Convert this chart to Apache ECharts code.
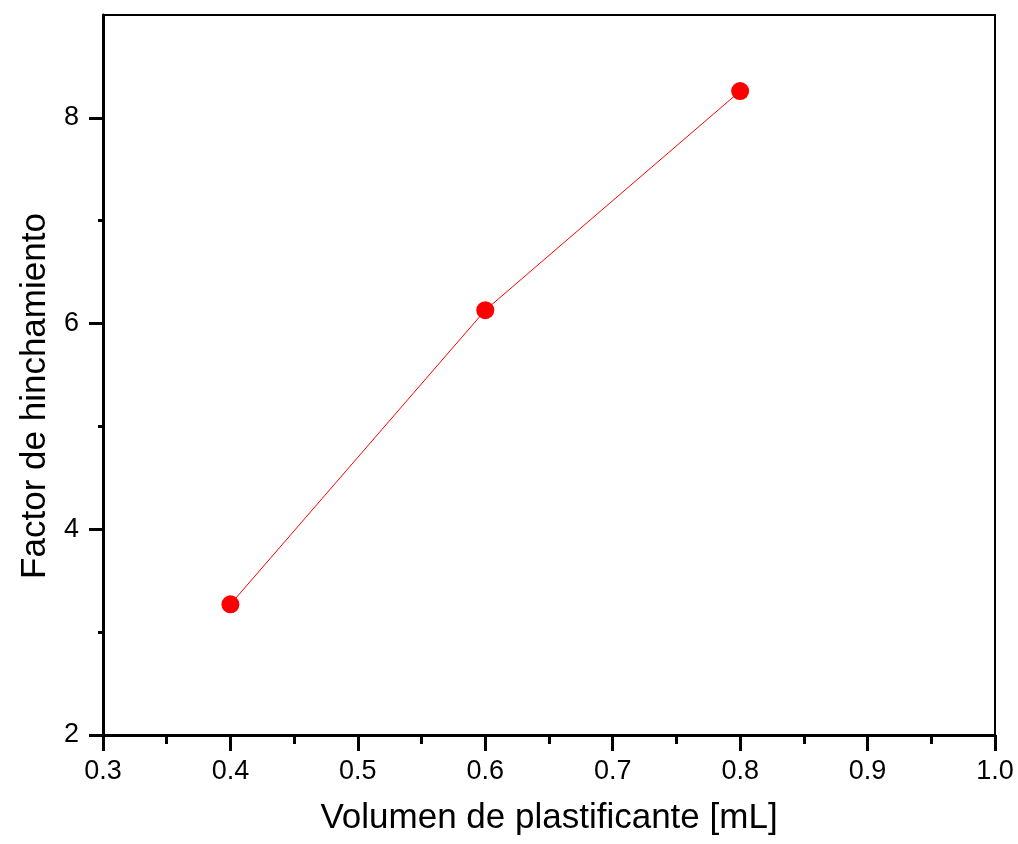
<!DOCTYPE html>
<html>
<head>
<meta charset="utf-8">
<script src="https://cdn.jsdelivr.net/npm/echarts@6/dist/echarts.min.js"></script>
<style>
    html, body { margin: 0; padding: 0; background: #fff; }
    #chart { width: 1018px; height: 844px; }
</style>
</head>
<body>
<div id="chart"></div>
<script>
// datos
var volumen = [0.4, 0.6, 0.8];
var factor = [3.27, 6.13, 8.26];
var yMajor = [2, 4, 6, 8];
var yMinor = [3, 5, 7];
var xTitle = 'Volumen de plastificante [mL]';
var yTitle = 'Factor de hinchamiento';

var points = [];
for (let i = 0; i < volumen.length; i++) {
    points.push([volumen[i], factor[i]]);
}

var myChart = echarts.init(document.getElementById('chart'));
var font = '"Liberation Sans", Arial, sans-serif';

var option = {
    animation: false,
    backgroundColor: '#fff',
    grid: {
        left: 103,
        right: 23,
        top: 15,
        bottom: 109,
        show: true,
        borderColor: '#000',
        borderWidth: 2
    },
    xAxis: {
        type: 'value',
        min: 0.3,
        max: 1.0,
        interval: 0.1,
        name: xTitle,
        nameLocation: 'middle',
        nameGap: 66,
        nameTextStyle: { fontFamily: font, fontSize: 35, color: '#000' },
        axisLine: { onZero: false, lineStyle: { color: '#000', width: 3 } },
        axisTick: { inside: false, length: 16, lineStyle: { color: '#000', width: 3 } },
        minorTick: { show: true, splitNumber: 2, length: 9, lineStyle: { color: '#000', width: 3 } },
        axisLabel: {
            margin: 23,
            fontFamily: font, fontSize: 27, color: '#000',
            formatter: function (v) { return v.toFixed(1); }
        },
        splitLine: { show: false }
    },
    yAxis: [
        {
            type: 'value',
            min: 2,
            max: 9,
            name: yTitle,
            nameLocation: 'middle',
            nameGap: 50,
            nameTextStyle: { fontFamily: font, fontSize: 35, color: '#000', padding: [0, 42, 0, 0] },
            axisLine: { onZero: false, lineStyle: { color: '#000', width: 3 } },
            axisTick: { inside: false, length: 14, customValues: yMajor, lineStyle: { color: '#000', width: 3 } },
            axisLabel: {
                margin: 24,
                customValues: yMajor,
                fontFamily: font, fontSize: 27, color: '#000'
            },
            splitLine: { show: false }
        },
        {
            // solo para los ticks menores
            type: 'value',
            position: 'left',
            min: 2,
            max: 9,
            axisLine: { show: false },
            axisTick: { inside: false, length: 5, customValues: yMinor, lineStyle: { color: '#000', width: 3 } },
            axisLabel: { show: false },
            splitLine: { show: false }
        }
    ],
    series: [
        {
            type: 'line',
            data: points,
            symbol: 'circle',
            symbolSize: 18,
            itemStyle: { color: '#ff0000' },
            lineStyle: { color: '#ff0000', width: 1 }
        }
    ]
};

myChart.setOption(option);
</script>
</body>
</html>
